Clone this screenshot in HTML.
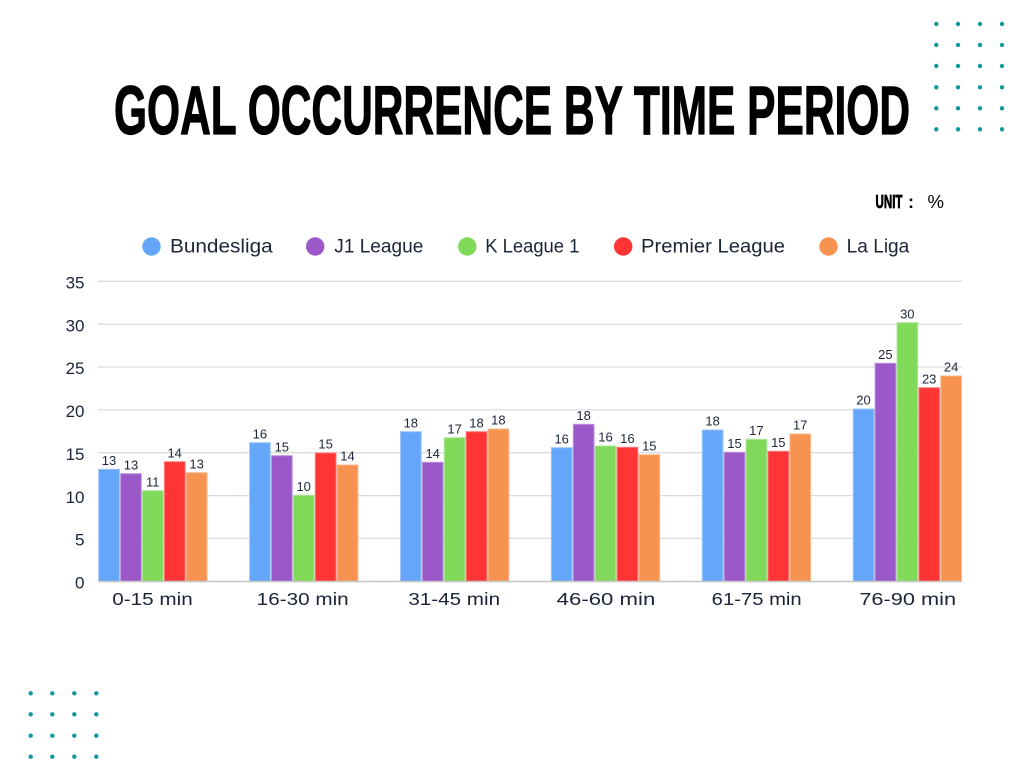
<!DOCTYPE html>
<html><head><meta charset="utf-8"><style>
html,body{margin:0;padding:0;background:#fff;}
svg{display:block;}
</style></head><body>
<svg width="1024" height="768" viewBox="0 0 1024 768" xmlns="http://www.w3.org/2000/svg" font-family="Liberation Sans, sans-serif">
<rect width="1024" height="768" fill="#fff"/>
<!-- top-right dots -->
<g fill="#0e9a9b">
<circle cx="936.3" cy="24" r="2.2"/><circle cx="958" cy="24" r="2.2"/><circle cx="980" cy="24" r="2.2"/><circle cx="1002" cy="24" r="2.2"/>
<circle cx="936.3" cy="45" r="2.2"/><circle cx="958" cy="45" r="2.2"/><circle cx="980" cy="45" r="2.2"/><circle cx="1002" cy="45" r="2.2"/>
<circle cx="936.3" cy="66" r="2.2"/><circle cx="958" cy="66" r="2.2"/><circle cx="980" cy="66" r="2.2"/><circle cx="1002" cy="66" r="2.2"/>
<circle cx="936.3" cy="87.3" r="2.2"/><circle cx="958" cy="87.3" r="2.2"/><circle cx="980" cy="87.3" r="2.2"/><circle cx="1002" cy="87.3" r="2.2"/>
<circle cx="936.3" cy="108.3" r="2.2"/><circle cx="958" cy="108.3" r="2.2"/><circle cx="980" cy="108.3" r="2.2"/><circle cx="1002" cy="108.3" r="2.2"/>
<circle cx="936.3" cy="129.3" r="2.2"/><circle cx="958" cy="129.3" r="2.2"/><circle cx="980" cy="129.3" r="2.2"/><circle cx="1002" cy="129.3" r="2.2"/>
<!-- bottom-left dots -->
<circle cx="30.7" cy="693.3" r="2.2"/><circle cx="52.3" cy="693.3" r="2.2"/><circle cx="74.3" cy="693.3" r="2.2"/><circle cx="96.3" cy="693.3" r="2.2"/>
<circle cx="30.7" cy="714.3" r="2.2"/><circle cx="52.3" cy="714.3" r="2.2"/><circle cx="74.3" cy="714.3" r="2.2"/><circle cx="96.3" cy="714.3" r="2.2"/>
<circle cx="30.7" cy="735.7" r="2.2"/><circle cx="52.3" cy="735.7" r="2.2"/><circle cx="74.3" cy="735.7" r="2.2"/><circle cx="96.3" cy="735.7" r="2.2"/>
<circle cx="30.7" cy="756.7" r="2.2"/><circle cx="52.3" cy="756.7" r="2.2"/><circle cx="74.3" cy="756.7" r="2.2"/><circle cx="96.3" cy="756.7" r="2.2"/>
</g>
<!-- title -->
<text x="114" y="134" font-size="69" font-weight="bold" fill="#000" stroke="#000" stroke-width="1.2" stroke-linejoin="round" textLength="796" lengthAdjust="spacingAndGlyphs">GOAL OCCURRENCE BY TIME PERIOD</text>
<!-- unit -->
<text x="875.5" y="208" font-size="18" font-weight="bold" fill="#000" stroke="#000" stroke-width="0.8" textLength="27" lengthAdjust="spacingAndGlyphs">UNIT</text>
<text x="908" y="208" font-size="18" font-weight="bold" fill="#000">:</text>
<text x="927.5" y="208" font-size="18" fill="#000" textLength="16.5" lengthAdjust="spacingAndGlyphs">%</text>
<!-- legend -->
<g font-size="19" fill="#1b2538">
<circle cx="151.5" cy="246.5" r="9.2" fill="#64a6f9"/>
<text x="170" y="252.5" textLength="102.7" lengthAdjust="spacingAndGlyphs">Bundesliga</text>
<circle cx="315.2" cy="246.5" r="9.2" fill="#9b58c9"/>
<text x="334.3" y="252.5" textLength="89" lengthAdjust="spacingAndGlyphs">J1 League</text>
<circle cx="467.3" cy="246.5" r="9.2" fill="#80d958"/>
<text x="485.3" y="252.5" textLength="94" lengthAdjust="spacingAndGlyphs">K League 1</text>
<circle cx="623.2" cy="246.5" r="9.2" fill="#ff3434"/>
<text x="641" y="252.5" textLength="144" lengthAdjust="spacingAndGlyphs">Premier League</text>
<circle cx="828.5" cy="246.5" r="9.2" fill="#f79350"/>
<text x="846.7" y="252.5" textLength="62.6" lengthAdjust="spacingAndGlyphs">La Liga</text>
</g>
<!-- gridlines -->
<g stroke="#dcdcdc" stroke-width="1.3">
<line x1="98" y1="281.3" x2="962" y2="281.3"/>
<line x1="98" y1="324.2" x2="962" y2="324.2"/>
<line x1="98" y1="367" x2="962" y2="367"/>
<line x1="98" y1="409.9" x2="962" y2="409.9"/>
<line x1="98" y1="452.7" x2="962" y2="452.7"/>
<line x1="98" y1="495.6" x2="962" y2="495.6"/>
<line x1="98" y1="538.4" x2="962" y2="538.4"/>
</g>
<!-- y labels -->
<g font-size="17" fill="#1b2538" text-anchor="end">
<text x="84.5" y="288.5">35</text>
<text x="84.5" y="331.4">30</text>
<text x="84.5" y="374.2">25</text>
<text x="84.5" y="417.1">20</text>
<text x="84.5" y="459.9">15</text>
<text x="84.5" y="502.8">10</text>
<text x="84.5" y="545.6">5</text>
<text x="84.5" y="588.5">0</text>
</g>
<!-- bars -->
<g stroke-width="1">
<rect x="98.7" y="469.3" width="20.7" height="112" fill="#64a6f9" stroke="#9cc6fb"/>
<rect x="120.6" y="473.7" width="20.7" height="107.6" fill="#9b58c9" stroke="#bd92dc"/>
<rect x="142.5" y="490.7" width="20.7" height="90.6" fill="#80d958" stroke="#aee79a"/>
<rect x="164.4" y="461.7" width="20.7" height="119.6" fill="#ff3434" stroke="#ff7a7a"/>
<rect x="186.3" y="472.7" width="20.7" height="108.6" fill="#f79350" stroke="#fab88c"/>
<rect x="249.6" y="442.7" width="20.7" height="138.6" fill="#64a6f9" stroke="#9cc6fb"/>
<rect x="271.5" y="455.7" width="20.7" height="125.6" fill="#9b58c9" stroke="#bd92dc"/>
<rect x="293.4" y="495.3" width="20.7" height="86" fill="#80d958" stroke="#aee79a"/>
<rect x="315.3" y="453" width="20.7" height="128.3" fill="#ff3434" stroke="#ff7a7a"/>
<rect x="337.2" y="465" width="20.7" height="116.3" fill="#f79350" stroke="#fab88c"/>
<rect x="400.5" y="431.7" width="20.7" height="149.6" fill="#64a6f9" stroke="#9cc6fb"/>
<rect x="422.4" y="462.3" width="20.7" height="119" fill="#9b58c9" stroke="#bd92dc"/>
<rect x="444.3" y="437.7" width="20.7" height="143.6" fill="#80d958" stroke="#aee79a"/>
<rect x="466.2" y="431.7" width="20.7" height="149.6" fill="#ff3434" stroke="#ff7a7a"/>
<rect x="488.1" y="429" width="20.7" height="152.3" fill="#f79350" stroke="#fab88c"/>
<rect x="551.4" y="447.7" width="20.7" height="133.6" fill="#64a6f9" stroke="#9cc6fb"/>
<rect x="573.3" y="424.3" width="20.7" height="157" fill="#9b58c9" stroke="#bd92dc"/>
<rect x="595.2" y="446" width="20.7" height="135.3" fill="#80d958" stroke="#aee79a"/>
<rect x="617.1" y="447.3" width="20.7" height="134" fill="#ff3434" stroke="#ff7a7a"/>
<rect x="639" y="454.7" width="20.7" height="126.6" fill="#f79350" stroke="#fab88c"/>
<rect x="702.3" y="430" width="20.7" height="151.3" fill="#64a6f9" stroke="#9cc6fb"/>
<rect x="724.2" y="452.3" width="20.7" height="129" fill="#9b58c9" stroke="#bd92dc"/>
<rect x="746.1" y="439.3" width="20.7" height="142" fill="#80d958" stroke="#aee79a"/>
<rect x="768" y="451.3" width="20.7" height="130" fill="#ff3434" stroke="#ff7a7a"/>
<rect x="789.9" y="434" width="20.7" height="147.3" fill="#f79350" stroke="#fab88c"/>
<rect x="853.2" y="409" width="20.7" height="172.3" fill="#64a6f9" stroke="#9cc6fb"/>
<rect x="875.1" y="363.3" width="20.7" height="218" fill="#9b58c9" stroke="#bd92dc"/>
<rect x="897" y="322.7" width="20.7" height="258.6" fill="#80d958" stroke="#aee79a"/>
<rect x="918.9" y="387.7" width="20.7" height="193.6" fill="#ff3434" stroke="#ff7a7a"/>
<rect x="940.8" y="376" width="20.7" height="205.3" fill="#f79350" stroke="#fab88c"/>
</g>
<!-- zero line -->
<line x1="98" y1="581.5" x2="962" y2="581.5" stroke="#c4c4c4" stroke-width="1.5"/>
<!-- value labels -->
<g font-size="13" fill="#1d2639" text-anchor="middle">
<text x="109" y="465">13</text><text x="131" y="469.3">13</text><text x="152.8" y="486.3">11</text><text x="174.7" y="457.3">14</text><text x="196.6" y="468.3">13</text>
<text x="259.9" y="438.3">16</text><text x="281.8" y="451.3">15</text><text x="303.7" y="490.9">10</text><text x="325.6" y="448.6">15</text><text x="347.5" y="460.6">14</text>
<text x="410.8" y="427.3">18</text><text x="432.7" y="457.9">14</text><text x="454.6" y="433.3">17</text><text x="476.5" y="427.3">18</text><text x="498.4" y="424.6">18</text>
<text x="561.7" y="443.3">16</text><text x="583.6" y="419.9">18</text><text x="605.5" y="441.6">16</text><text x="627.4" y="442.9">16</text><text x="649.3" y="450.3">15</text>
<text x="712.6" y="425.6">18</text><text x="734.5" y="447.9">15</text><text x="756.4" y="434.9">17</text><text x="778.3" y="446.9">15</text><text x="800.2" y="429.6">17</text>
<text x="863.5" y="404.6">20</text><text x="885.4" y="358.9">25</text><text x="907.3" y="318.3">30</text><text x="929.2" y="383.3">23</text><text x="951.1" y="371.6">24</text>
</g>
<!-- x labels -->
<g font-size="17.5" fill="#1b2538" text-anchor="middle">
<text x="152.5" y="605" textLength="80.4" lengthAdjust="spacingAndGlyphs">0-15 min</text>
<text x="302.7" y="605" textLength="92" lengthAdjust="spacingAndGlyphs">16-30 min</text>
<text x="454.2" y="605" textLength="91.7" lengthAdjust="spacingAndGlyphs">31-45 min</text>
<text x="606" y="605" textLength="98.6" lengthAdjust="spacingAndGlyphs">46-60 min</text>
<text x="756.7" y="605" textLength="90" lengthAdjust="spacingAndGlyphs">61-75 min</text>
<text x="907.7" y="605" textLength="96.7" lengthAdjust="spacingAndGlyphs">76-90 min</text>
</g>
</svg>
</body></html>
